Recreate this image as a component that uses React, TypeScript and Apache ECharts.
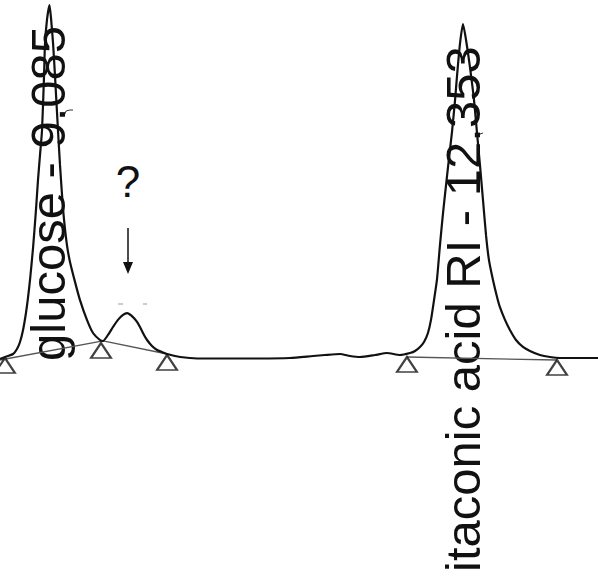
import React, { useEffect, useRef } from "react";
import * as echarts from "echarts";

// Retention time (min) and detector signal (% of glucose peak)
const traceTime = [
  8.694, 8.733, 8.797, 8.828, 8.852, 8.876, 8.899, 8.915, 8.931, 8.955, 8.978, 8.994, 9.010, 9.026,
  9.042, 9.049, 9.065, 9.085, 9.097, 9.113, 9.128, 9.152, 9.168, 9.184, 9.200, 9.223, 9.247, 9.287,
  9.326, 9.381, 9.429, 9.484, 9.508, 9.547, 9.587, 9.626, 9.666, 9.698, 9.745, 9.777, 9.800, 9.832,
  9.856, 9.895, 9.935, 9.974, 10.014, 10.077, 10.156, 10.274, 10.512, 10.749, 10.986, 11.168, 11.262,
  11.381, 11.460, 11.539, 11.658, 11.752, 11.855, 11.934, 11.974, 12.013, 12.045, 12.076, 12.100,
  12.124, 12.147, 12.171, 12.195, 12.219, 12.242, 12.266, 12.290, 12.306, 12.329, 12.353, 12.377,
  12.408, 12.440, 12.464, 12.487, 12.511, 12.535, 12.558, 12.590, 12.622, 12.645, 12.685, 12.724,
  12.772, 12.827, 12.882, 12.961, 13.041, 13.120, 13.238, 13.420,
];
const traceSignal = [
  -0.28, 0.28, 1.13, 2.55, 4.53, 7.93, 12.75, 17.0, 22.1, 31.2, 41.9, 50.4, 57.5, 64.6,
  80.2, 88.7, 95.8, 100, 96.3, 89.2, 80.2, 64.6, 54.7, 46.2, 39.1, 32.0, 27.2, 21.5,
  16.4, 10.8, 7.08, 5.10, 4.82, 6.52, 8.78, 10.8, 12.2, 12.7, 11.6, 10.2, 8.78, 6.52,
  5.10, 3.40, 2.27, 1.70, 1.13, 0.57, 0.14, -0.14, -0.14, -0.14, 0, 0.57, 0.85,
  1.13, 0.57, 0.28, 0.85, 1.42, 0.85, 1.42, 1.98, 3.12, 4.53, 7.08, 10.8,
  16.4, 22.1, 32.0, 41.0, 49.0, 56.5, 64.0, 73.0, 80.0, 89.0, 94.6, 90.1,
  82.4, 73.1, 63.7, 54.7, 44.8, 34.8, 27.8, 22.1, 17.3, 14.4, 10.8, 7.93,
  5.10, 3.12, 1.98, 0.85, 0.28, 0, 0, 0,
];

// Integration baselines (start / end of each drawn segment)
const baseline1Time = [8.694, 9.508, 10.014];
const baseline1Signal = [-0.57, 4.82, 1.13];
const baseline2Time = [11.910, 13.096];
const baseline2Signal = [0.28, -0.57];

// Peak start/end markers (triangles)
const markerTime = [8.733, 9.492, 10.014, 11.910, 13.096];
const markerSignal = [0, 4.25, 0.85, 0.28, -0.57];

const labels = ["glucose - 9.085", "itaconic acid RI - 12.353", "?"];

export default function App() {
  const ref = useRef<HTMLDivElement>(null);
  useEffect(() => {
    if (!ref.current) return;
    const chart = echarts.init(ref.current, null, { renderer: "svg" });
    const zip = (a: number[], b: number[]) => a.map((v, i) => [v, b[i]]);
    const font = "Liberation Sans, Arial, sans-serif";
    chart.setOption({
      animation: false,
      backgroundColor: "#ffffff",
      grid: { left: 0, right: 0, top: 0, bottom: 0 },
      xAxis: { type: "value", min: 8.6938, max: 13.42, show: false },
      yAxis: { type: "value", min: -61.76, max: 101.42, show: false },
      series: [
        {
          type: "line",
          data: zip(baseline1Time, baseline1Signal),
          showSymbol: false,
          lineStyle: { color: "#555", width: 1.3 },
          z: 2,
        },
        {
          type: "line",
          data: zip(baseline2Time, baseline2Signal),
          showSymbol: false,
          lineStyle: { color: "#555", width: 1.3 },
          z: 2,
        },
        {
          type: "line",
          data: zip(traceTime, traceSignal),
          showSymbol: false,
          smooth: 0.2,
          lineStyle: { color: "#111", width: 2.2 },
          z: 3,
        },
        {
          type: "scatter",
          data: zip(markerTime, markerSignal),
          symbol: "triangle",
          symbolSize: [20, 15],
          symbolOffset: [0, 7.5],
          itemStyle: { color: "#fff", borderColor: "#111", borderWidth: 2 },
          z: 4,
        },
      ],
      graphic: [
        {
          type: "text",
          x: 48,
          y: 361,
          rotation: Math.PI / 2,
          style: {
            text: labels[0],
            fontSize: 49,
            fontFamily: font,
            fill: "#111",
            textAlign: "left",
            textVerticalAlign: "middle",
          },
          z: 1,
        },
        {
          type: "text",
          x: 463,
          y: 572,
          rotation: Math.PI / 2,
          style: {
            text: labels[1],
            fontSize: 49,
            fontFamily: font,
            fill: "#111",
            textAlign: "left",
            textVerticalAlign: "middle",
          },
          z: 1,
        },
        {
          type: "text",
          x: 128,
          y: 181,
          style: {
            text: labels[2],
            fontSize: 44,
            fontFamily: font,
            fill: "#111",
            textAlign: "center",
            textVerticalAlign: "middle",
          },
        },
        {
          type: "line",
          shape: { x1: 128, y1: 228, x2: 128, y2: 264 },
          style: { stroke: "#111", lineWidth: 1.5 },
        },
        {
          type: "polygon",
          shape: { points: [[123, 262], [133, 262], [128, 274]] },
          style: { fill: "#111" },
        },
        {
          type: "line",
          shape: { x1: 118, y1: 304, x2: 123, y2: 304 },
          style: { stroke: "#999", lineWidth: 1 },
        },
        {
          type: "line",
          shape: { x1: 143, y1: 304, x2: 147, y2: 304 },
          style: { stroke: "#999", lineWidth: 1 },
        },
        {
          type: "polyline",
          shape: { points: [[64, 116], [66, 111], [70, 110], [73, 110]] },
          style: { stroke: "#333", lineWidth: 1, fill: null },
        },
        {
          type: "polyline",
          shape: { points: [[478, 137], [480, 134], [483, 133]] },
          style: { stroke: "#333", lineWidth: 1, fill: null },
        },
      ],
    });
    return () => chart.dispose();
  }, []);
  return (
    <div
      ref={ref}
      style={{ position: "fixed", left: 0, top: 0, width: 598, height: 576 }}
    />
  );
}
